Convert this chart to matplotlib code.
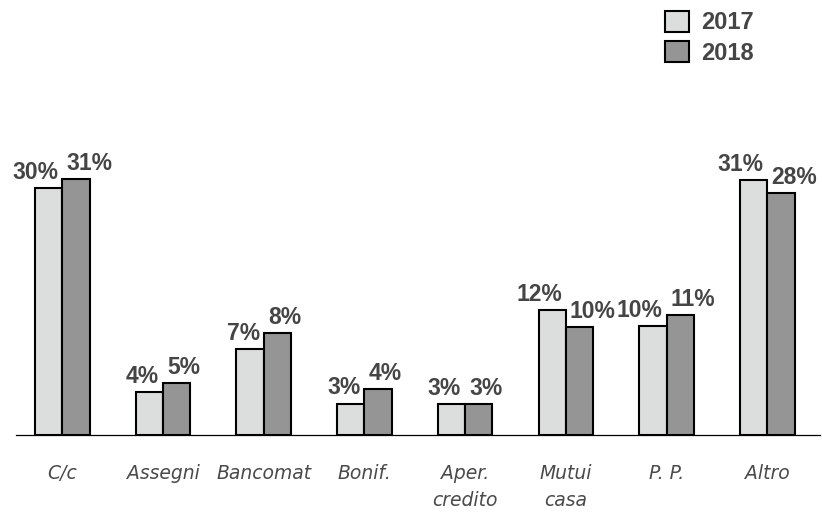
import numpy as np
import matplotlib.pyplot as plt
from matplotlib.patches import Patch

categories = ['C/c', 'Assegni', 'Bancomat', 'Bonif.', 'Aper.\ncredito', 'Mutui\ncasa', 'P. P.', 'Altro']
h2017 = [29.9, 5.2, 10.4, 3.8, 3.75, 15.1, 13.2, 30.9]
h2018 = [31.0, 6.3, 12.3, 5.6, 3.75, 13.1, 14.5, 29.3]
lab2017 = ['30%', '4%', '7%', '3%', '3%', '12%', '10%', '31%']
lab2018 = ['31%', '5%', '8%', '4%', '3%', '10%', '11%', '28%']

c17 = '#dcdedd'
c18 = '#959595'
txt = '#454545'

fig = plt.figure(figsize=(8.22, 5.23), dpi=100)
ax = fig.add_axes([16/822, 88/523, 803.6/822, 285/523])

x = np.arange(len(categories))
w = 0.271
ax.bar(x - w/2, h2017, w, color=c17, edgecolor='black', linewidth=1.5)
ax.bar(x + w/2, h2018, w, color=c18, edgecolor='black', linewidth=1.5)

# etichette percentuali sopra le barre
for i in range(len(x)):
    ax.annotate(lab2017[i], (x[i] - 0.04, h2017[i]), xytext=(0, 3), textcoords='offset points',
                ha='right', va='bottom', fontsize=16.5, fontweight='bold', color=txt,
                family='Liberation Sans')
    ax.annotate(lab2018[i], (x[i] + 0.04, h2018[i]), xytext=(0, 3), textcoords='offset points',
                ha='left', va='bottom', fontsize=16.5, fontweight='bold', color=txt,
                family='Liberation Sans')

ax.set_xlim(-0.46, 7.52)
ax.set_ylim(0, 34.5)
ax.set_xticks(x)
ax.set_xticklabels(categories, fontsize=13.5, style='italic', color='#4a4a4a', linespacing=1.55)
ax.tick_params(axis='x', length=0, pad=21)
ax.set_yticks([])
for s in ['top', 'left', 'right']:
    ax.spines[s].set_visible(False)
ax.spines['bottom'].set_linewidth(0.9)

handles = [Patch(facecolor=c17, edgecolor='black', linewidth=1.5, label='2017'),
           Patch(facecolor=c18, edgecolor='black', linewidth=1.5, label='2018')]
leg = fig.legend(handles=handles, loc='upper left', bbox_to_anchor=(665/822, 1 - 10.5/523),
                 frameon=False, borderpad=0, borderaxespad=0, handlelength=1.0, handleheight=1.0,
                 handletextpad=0.55, labelspacing=0.3,
                 prop={'family': 'Liberation Sans', 'weight': 'bold', 'size': 17})
for t in leg.get_texts():
    t.set_color(txt)

fig.savefig('out.png', dpi=100)
